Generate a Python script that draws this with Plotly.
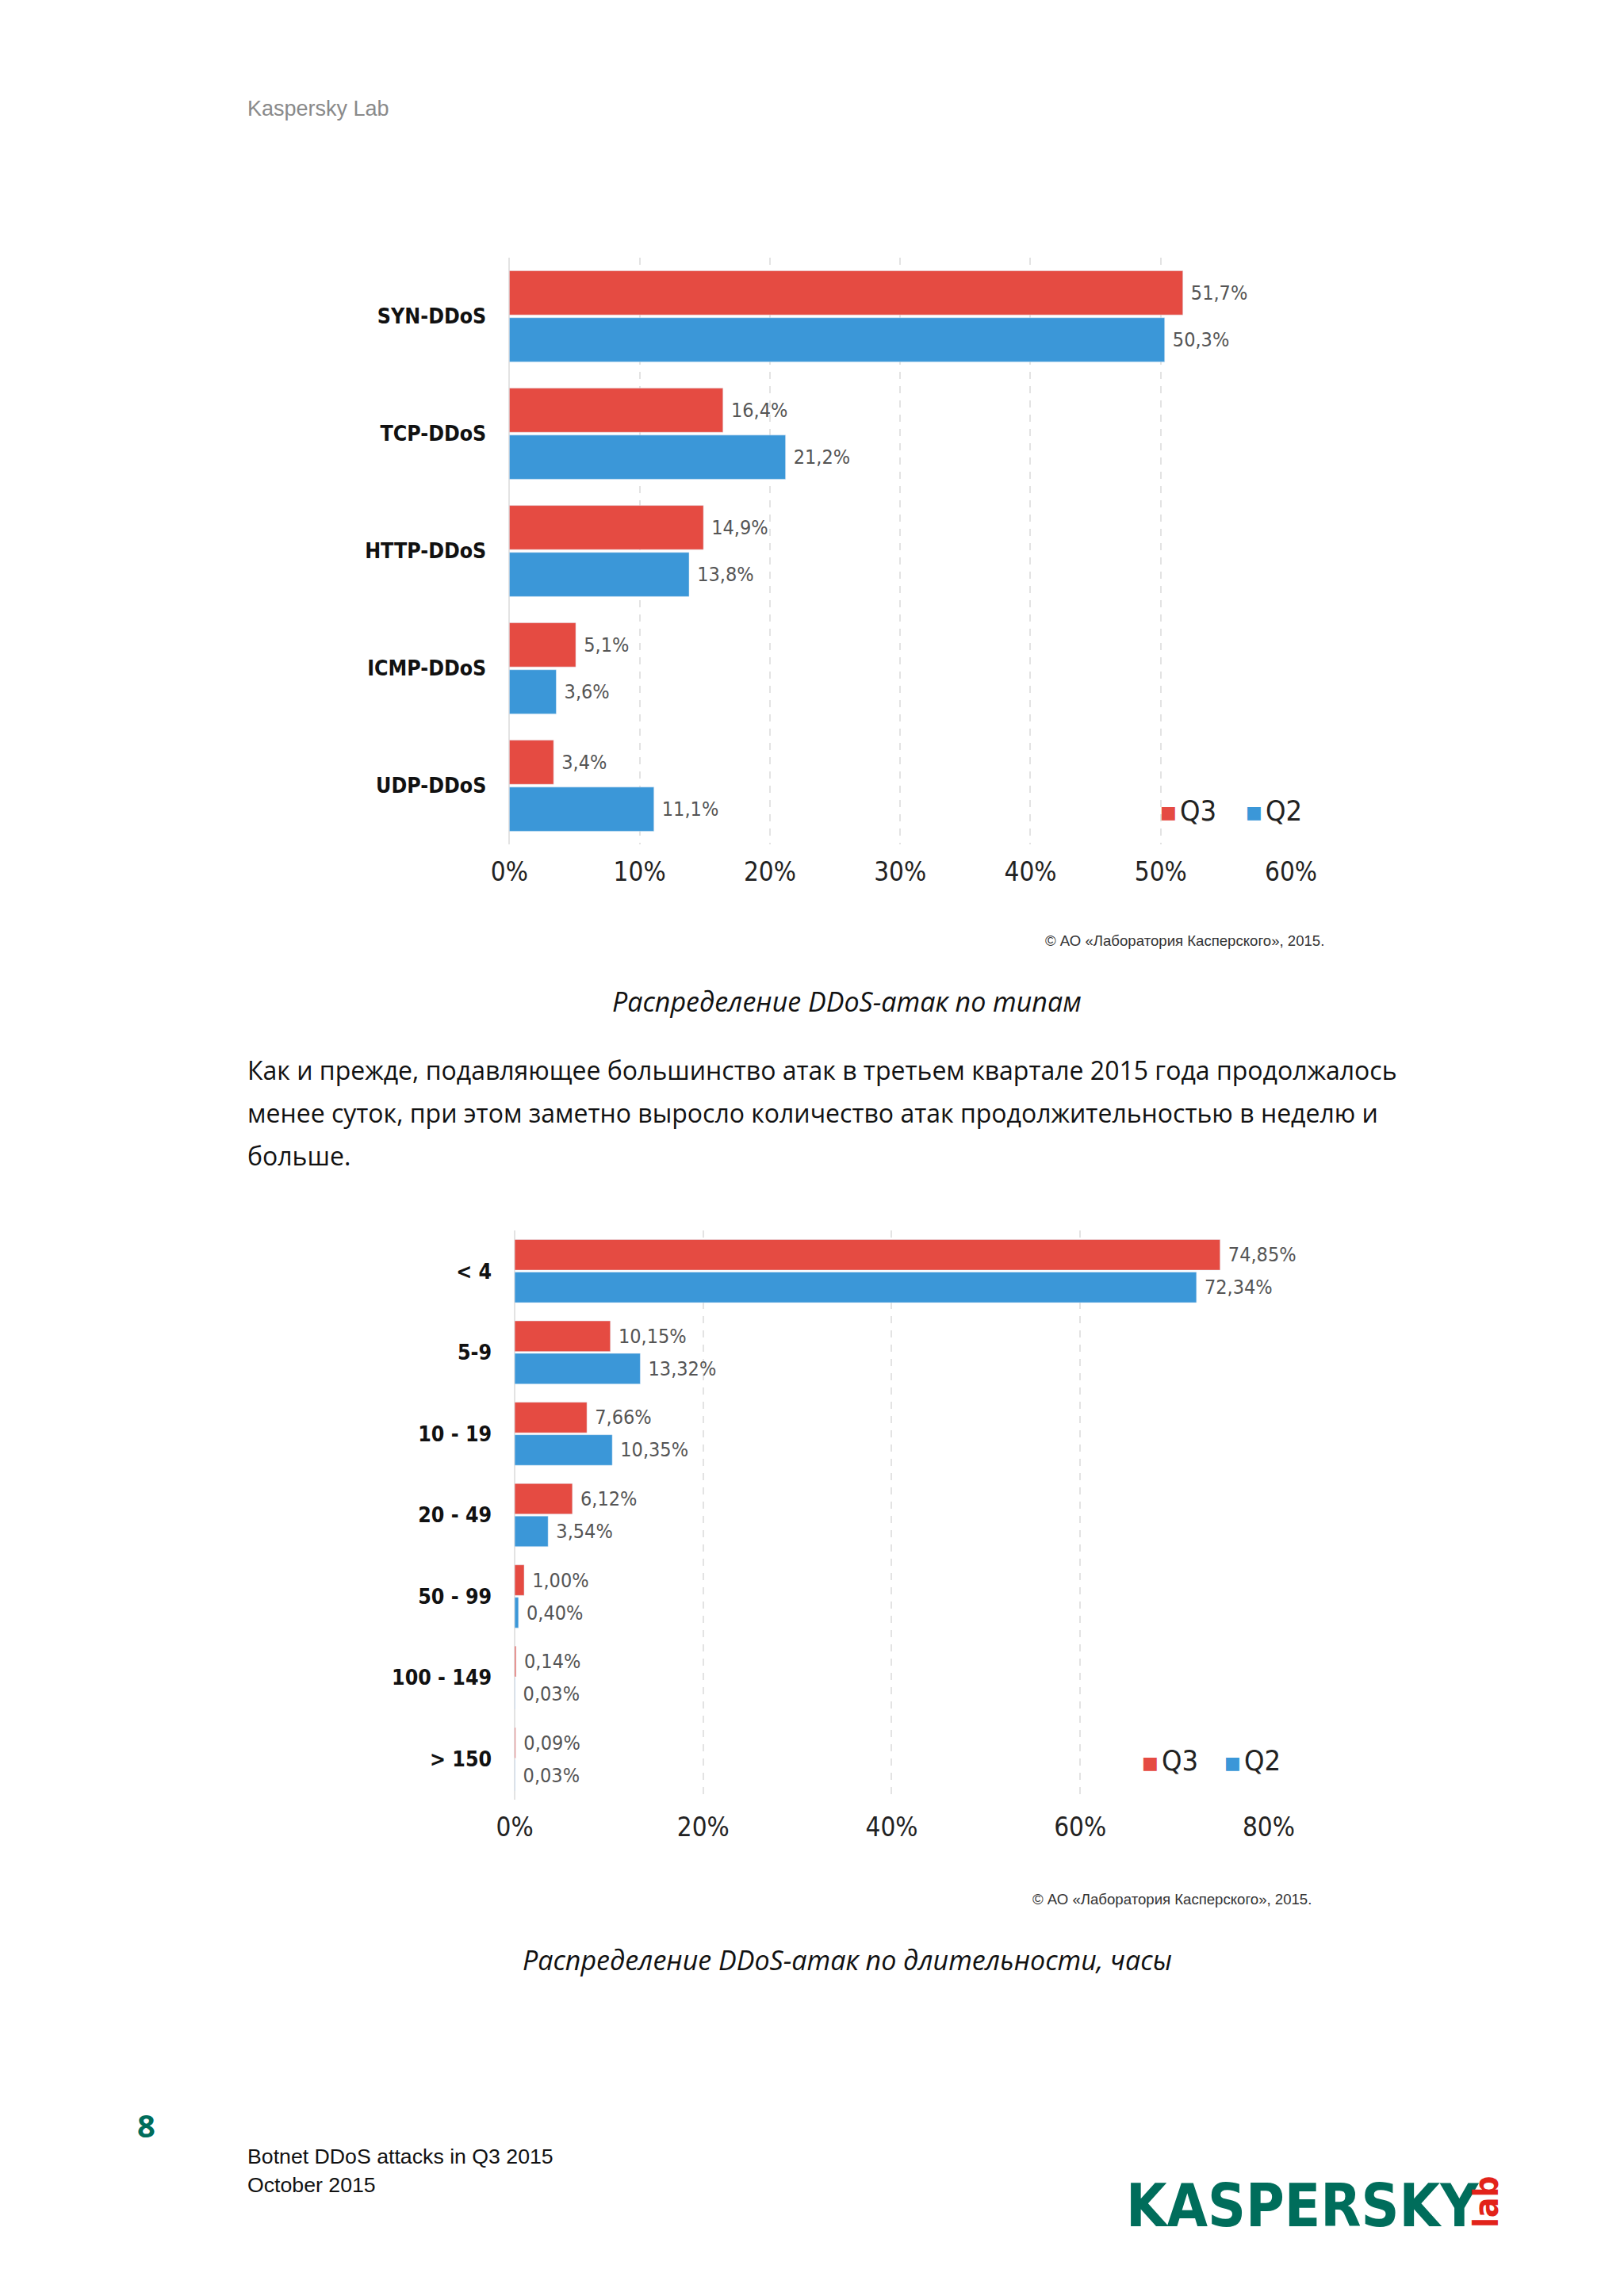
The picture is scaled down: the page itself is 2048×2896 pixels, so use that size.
import plotly.graph_objects as go

# ---- data ----
types = ["SYN-DDoS", "TCP-DDoS", "HTTP-DDoS", "ICMP-DDoS", "UDP-DDoS"]
types_q3 = [51.7, 16.4, 14.9, 5.1, 3.4]
types_q2 = [50.3, 21.2, 13.8, 3.6, 11.1]
types_ticks = [0, 10, 20, 30, 40, 50, 60]

durations = ["< 4", "5-9", "10 - 19", "20 - 49", "50 - 99", "100 - 149", "> 150"]
dur_q3 = [74.85, 10.15, 7.66, 6.12, 1.00, 0.14, 0.09]
dur_q2 = [72.34, 13.32, 10.35, 3.54, 0.40, 0.03, 0.03]
dur_ticks = [0, 20, 40, 60, 80]

series_names = ["Q3", "Q2"]

RED = "#E54B42"
BLUE = "#3B97D8"
W, H = 2048, 2896
COND = "DejaVu Sans Condensed, Liberation Sans Narrow, Arial Narrow, sans-serif"
ARIAL = "Liberation Sans, Arial, sans-serif"
BODY = "Open Sans, Noto Sans, sans-serif"


def fmt(v, d):
    return " " + (f"{v:.{d}f}" + "%").replace(".", ",")


def px(x):
    return x / W


def py(y):
    return 1 - y / H


fig = go.Figure()

for name, vals, col in [(series_names[0], types_q3, RED), (series_names[1], types_q2, BLUE)]:
    fig.add_trace(go.Bar(
        y=types, x=vals, orientation="h", name=name, marker_color=col,
        text=[fmt(v, 1) for v in vals], textposition="outside", cliponaxis=False,
        textfont=dict(family=COND, size=25, color="#555555"),
        xaxis="x", yaxis="y", offsetgroup=name, showlegend=False,
    ))

for name, vals, col in [(series_names[0], dur_q3, RED), (series_names[1], dur_q2, BLUE)]:
    fig.add_trace(go.Bar(
        y=durations, x=vals, orientation="h", name=name, marker_color=col,
        text=[fmt(v, 2) for v in vals], textposition="outside", cliponaxis=False,
        textfont=dict(family=COND, size=25, color="#555555"),
        xaxis="x2", yaxis="y2", offsetgroup=name + "b", showlegend=False,
    ))

grid = dict(showgrid=True, gridcolor="#e3e3e3", griddash="dash", gridwidth=1.5,
            zeroline=True, zerolinecolor="#e3e3e3", zerolinewidth=1.5,
            showline=False, ticks="", ticklabelstandoff=12,
            tickfont=dict(family=COND, size=33, color="#222222"), fixedrange=True)
yax = dict(showgrid=False, zeroline=False, showline=False, ticks="",
           autorange="reversed", ticklabelstandoff=28, type="category",
           tickfont=dict(family=COND, size=26.5, color="#111111", weight="bold"))

fig.update_layout(
    width=W, height=H, margin=dict(l=0, r=0, t=0, b=0),
    paper_bgcolor="white", plot_bgcolor="white",
    barmode="group", bargap=0.2, bargroupgap=0.06,
    showlegend=False,
    xaxis=dict(domain=[px(636), px(1650)], range=[0, 60], tickvals=types_ticks,
               ticktext=[f"{t}%" for t in types_ticks], anchor="y", **grid),
    yaxis=dict(domain=[py(1065), py(325)], anchor="x", **yax),
    xaxis2=dict(domain=[px(643), px(1621)], range=[0, 80], tickvals=dur_ticks,
                ticktext=[f"{t}%" for t in dur_ticks], anchor="y2", **grid),
    yaxis2=dict(domain=[py(2270), py(1552)], anchor="x2", **yax),
    font=dict(family=BODY),
)

ann = []


def text(x, y, s, size, color="#000000", family=BODY, xanchor="left", italic=False, bold=False, **kw):
    ann.append(dict(x=px(x), y=py(y), xref="paper", yref="paper", text=s, showarrow=False,
                    xanchor=xanchor, yanchor="middle",
                    font=dict(size=size, color=color, family=family,
                              style="italic" if italic else "normal",
                              weight="bold" if bold else "normal"), **kw))


def legend(x_red, x_blue, y):
    for xx, col, name in [(x_red, RED, series_names[0]), (x_blue, BLUE, series_names[1])]:
        text(xx, y + 3, "■", 22, col, "DejaVu Sans, sans-serif")
        text(xx + 26, y, name, 36, "#222222", COND)


legend(1478, 1589, 1022)
legend(1454, 1561, 2220)

text(294, 137, "Kaspersky Lab", 27, "#8a8a8a", ARIAL)
text(1695, 1186, "© АО «Лаборатория Касперского», 2015.", 18.6, "#333333", ARIAL, xanchor="right")
text(1074, 1263, "Распределение DDoS-атак по типам", 34, "#111111", BODY, xanchor="center", italic=True)
text(294, 1349, "Как и прежде, подавляющее большинство атак в третьем квартале 2015 года продолжалось", 32, "#111111")
text(294, 1403, "менее суток, при этом заметно выросло количество атак продолжительностью в неделю и", 32, "#111111")
text(294, 1457, "больше.", 32, "#111111")
text(1679, 2395, "© АО «Лаборатория Касперского», 2015.", 18.6, "#333333", ARIAL, xanchor="right")
text(1074, 2472, "Распределение DDoS-атак по длительности, часы", 34, "#111111", BODY, xanchor="center", italic=True)
text(165, 2680, "8", 40, "#006D5B", BODY, xanchor="center", bold=True)
text(294, 2720, "Botnet DDoS attacks in Q3 2015", 26.7, "#111111", ARIAL)
text(294, 2756, "October 2015", 26.7, "#111111", ARIAL)
text(1434, 2782, "KASPERSKY", 74, "#006D5B", COND, bold=True)
text(1903, 2778, "lab", 42, "#E2231A", COND, xanchor="center", bold=True, textangle=-90)

fig.update_layout(annotations=ann)
fig.write_html(
    "out.html",
    config={"displayModeBar": False},
    post_script="document.body.style.margin='0';document.body.style.overflow='hidden';",
)
